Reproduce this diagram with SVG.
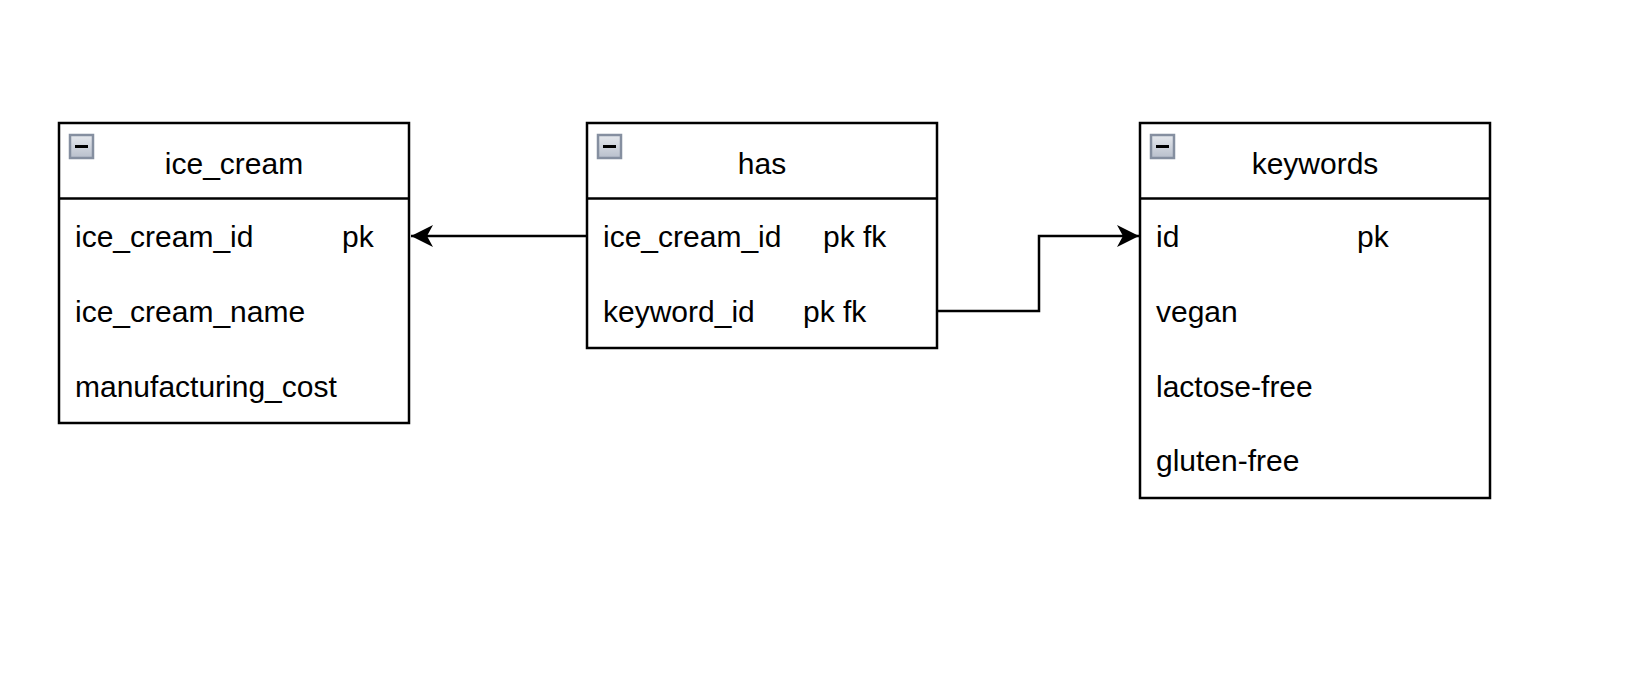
<svg xmlns="http://www.w3.org/2000/svg" width="1644" height="686" viewBox="0 0 1644 686">
<style>
  .box { fill: #ffffff; stroke: #000000; stroke-width: 2.5; }
  .div { stroke: #000000; stroke-width: 2.5; }
  .t { font-family: "Liberation Sans", Arial, sans-serif; font-size: 30px; fill: #000000; }
  .title { text-anchor: middle; }
  .edge { fill: none; stroke: #000000; stroke-width: 2.5; }
</style>
<defs>
  <linearGradient id="ig" x1="0" y1="0" x2="0" y2="1">
    <stop offset="0" stop-color="#e6e9ee"/>
    <stop offset="1" stop-color="#b8bfcb"/>
  </linearGradient>
  <g id="minus">
    <rect x="0" y="0" width="23" height="23" fill="url(#ig)" stroke="#858fa0" stroke-width="2.5"/>
    <rect x="5" y="10" width="13" height="3" fill="#000000"/>
  </g>
  <marker id="arr" markerWidth="24" markerHeight="24" viewBox="0 0 24 24" refX="22" refY="12" orient="auto" markerUnits="userSpaceOnUse">
    <path d="M22,12 L0,1 L6,12 L0,23 Z" fill="#000000"/>
  </marker>
</defs>
<rect width="1644" height="686" fill="#ffffff"/>

<g id="ice_cream">
  <rect class="box" x="59" y="123" width="350" height="300"/>
  <line class="div" x1="59" y1="198.5" x2="409" y2="198.5"/>
  <use href="#minus" x="70" y="135"/>
  <text class="t title" x="234" y="174">ice_cream</text>
  <text class="t" x="75" y="247">ice_cream_id</text>
  <text class="t" x="342" y="247">pk</text>
  <text class="t" x="75" y="322">ice_cream_name</text>
  <text class="t" x="75" y="397">manufacturing_cost</text>
</g>

<g id="has">
  <rect class="box" x="587" y="123" width="350" height="225"/>
  <line class="div" x1="587" y1="198.5" x2="937" y2="198.5"/>
  <use href="#minus" x="598" y="135"/>
  <text class="t title" x="762" y="174">has</text>
  <text class="t" x="603" y="247">ice_cream_id</text>
  <text class="t" x="823" y="247">pk fk</text>
  <text class="t" x="603" y="322">keyword_id</text>
  <text class="t" x="803" y="322">pk fk</text>
</g>

<g id="keywords">
  <rect class="box" x="1140" y="123" width="350" height="375"/>
  <line class="div" x1="1140" y1="198.5" x2="1490" y2="198.5"/>
  <use href="#minus" x="1151" y="135"/>
  <text class="t title" x="1315" y="174">keywords</text>
  <text class="t" x="1156" y="247">id</text>
  <text class="t" x="1357" y="247">pk</text>
  <text class="t" x="1156" y="322">vegan</text>
  <text class="t" x="1156" y="397">lactose-free</text>
  <text class="t" x="1156" y="471">gluten-free</text>
</g>

<g id="connectors">
  <path class="edge" d="M587,236 L411,236" marker-end="url(#arr)"/>
  <path class="edge" d="M937,311 L1039,311 L1039,236 L1139,236" marker-end="url(#arr)"/>
</g>
</svg>
